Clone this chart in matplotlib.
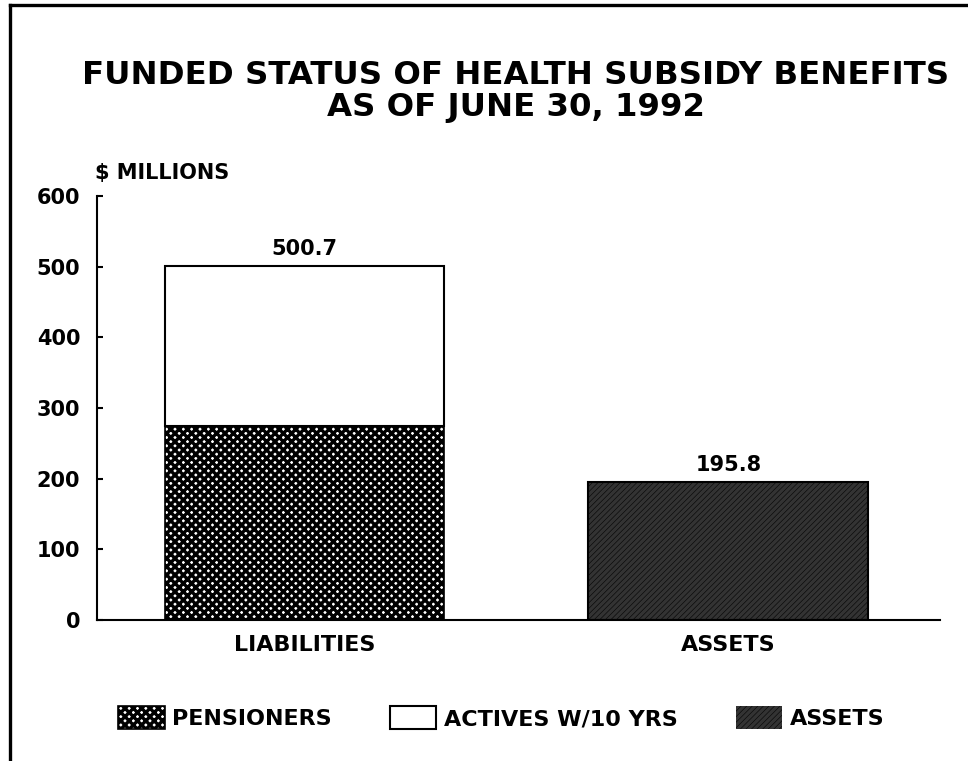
import matplotlib
matplotlib.use("Agg")
import matplotlib.pyplot as plt
from matplotlib.patches import Patch
from matplotlib.lines import Line2D

plt.rcParams['font.family'] = ['DejaVu Sans']
plt.rcParams['font.weight'] = 'bold'
plt.rcParams['hatch.linewidth'] = 2.4

categories = ['LIABILITIES', 'ASSETS']
pensioners = [274.0, 0.0]
actives = [226.7, 0.0]
assets = [0.0, 195.8]
yticks = [0, 100, 200, 300, 400, 500, 600]

totals = [p + a + s for p, a, s in zip(pensioners, actives, assets)]
x = list(range(len(categories)))
w = 0.66

fig = plt.figure(figsize=(9.68, 7.61), dpi=100)
ax = fig.add_axes([0.1002, 0.1853, 0.871, 0.557])

# page frame (top and left edge of the scanned page)
fig.add_artist(Line2D([0.0103, 1.0], [0.9934, 0.9934], color='black', lw=2.4))
fig.add_artist(Line2D([0.0103, 0.0103], [0.0, 0.9934], color='black', lw=2.4))

ax.bar(x[0], pensioners[0], w, color='white', edgecolor='black', hatch='xxxx', lw=0)
ax.bar(x[0], actives[0], w, bottom=pensioners[0], color='white', edgecolor='black', lw=1.5)
ax.bar(x[0], pensioners[0], w, fill=False, edgecolor='black', lw=1.2)
ax.bar(x[1], assets[1], w, color='#050505', edgecolor='#333333', hatch='//////', lw=0)
ax.bar(x[1], assets[1], w, fill=False, edgecolor='black', lw=1.5)

for xi, t in zip(x, totals):
    ax.text(xi, t + 10, f"{t:.1f}", ha='center', va='bottom', fontsize=15, fontweight='bold')

ax.set_xlim(-0.49, 1.50)
ax.set_ylim(0, 600)
ax.set_yticks(yticks)
ax.set_yticklabels([str(v) for v in yticks], fontsize=15, fontweight='bold')
ax.set_xticks(x)
ax.set_xticklabels(categories, fontsize=16, fontweight='bold')
ax.tick_params(axis='y', direction='in', length=4, width=1.5, pad=12)
ax.tick_params(axis='x', length=0, pad=11)
for s in ['top', 'right']:
    ax.spines[s].set_visible(False)
ax.spines['left'].set_linewidth(1.5)
ax.spines['bottom'].set_linewidth(1.5)

ax.text(-0.002, 1.03, '$ MILLIONS', transform=ax.transAxes, fontsize=15, fontweight='bold', ha='left', va='bottom')

fig.text(0.533, 0.880, 'FUNDED STATUS OF HEALTH SUBSIDY BENEFITS\nAS OF JUNE 30, 1992',
         ha='center', va='center', fontsize=23.3, fontweight='bold', linespacing=1.05)

handles = [
    Patch(facecolor='white', edgecolor='black', hatch='xxxx', lw=1.2),
    Patch(facecolor='white', edgecolor='black', lw=1.5),
    Patch(facecolor='#050505', edgecolor='#333333', hatch='//////', lw=0),
]
labels = ['PENSIONERS', 'ACTIVES W/10 YRS', 'ASSETS']
leg = fig.legend(handles, labels, loc='center', bbox_to_anchor=(0.518, 0.057), ncol=3, frameon=False,
                 fontsize=16, handlelength=2.1, handleheight=1.2, columnspacing=2.6, handletextpad=0.35)
for t in leg.get_texts():
    t.set_fontweight('bold')

fig.savefig('out.png', dpi=100)
